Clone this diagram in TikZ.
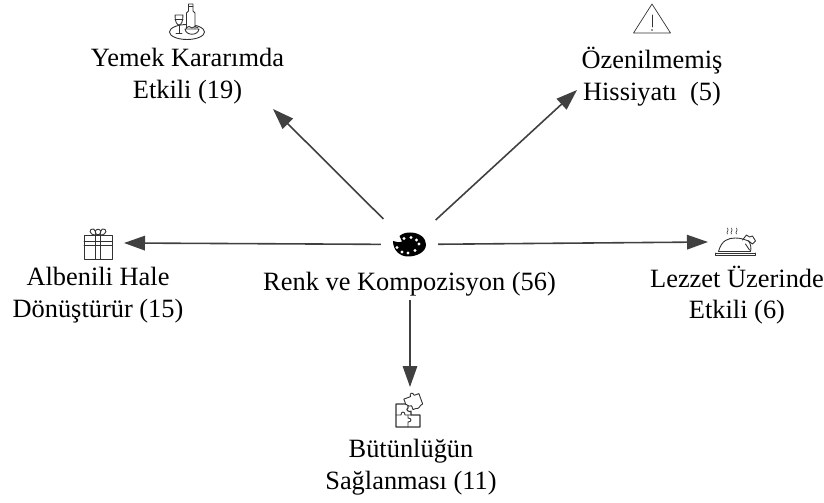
\documentclass[tikz,border=0pt]{standalone}
\usepackage{fontspec}
\setmainfont{Liberation Serif}
\usepackage{xcolor}
\usetikzlibrary{arrows.meta}
\definecolor{ArrowGray}{RGB}{64,64,64}
\definecolor{IconGray}{RGB}{50,50,50}
\tikzset{
    icon_line/.style={draw=IconGray, line width=0.9pt, line join=round, line cap=round},
    % --- ICONS (origin = centre of the icon) ---
    wine_icon/.pic={
        \draw[icon_line] (0,10) ellipse (17.5 and 7.5);
        \draw[icon_line, fill=white] (-0.5,8) -- (-0.5,-9) -- (1.5,-11) -- (1.5,-18) -- (6,-18) -- (6,-11) -- (8,-9) -- (8,8) -- cycle;
        \draw[icon_line] (1.5,-15.5) -- (6,-15.5);
        \draw[icon_line, fill=white] (-12,-7) -- (-4,-7) .. controls (-4,0) and (-6,3) .. (-8,3) .. controls (-10,3) and (-12,0) .. (-12,-7);
        \draw[icon_line] (-12,-3) -- (-4,-3) (-8,3) -- (-8,11) (-11,11.5) -- (-5,11.5);
        \draw[icon_line, fill=white] (-2,7) .. controls (-1,14) and (11,14) .. (12,7) -- cycle;
        \draw[icon_line] (-1,6) -- (2,4.5) -- (5,6) -- (8,4.5) -- (11,6);
    },
    warning_icon/.pic={
        \draw[icon_line, line width=0.7pt] (0,-15) -- (18.5,14) -- (-18.5,14) -- cycle;
        \draw[icon_line, line width=0.7pt] (0,-4) -- (0,8);
        \fill[IconGray] (0,11) circle (0.8);
    },
    gift_icon/.pic={
        \draw[icon_line] (-14,-8) rectangle (14,16);
        \draw[icon_line] (-14,-2) -- (14,-2) (-14,2) -- (14,2);
        \draw[icon_line] (-2.5,-8) -- (-2.5,16) (2.5,-8) -- (2.5,16);
        \draw[icon_line] (-2,-8) .. controls (-10,-8) and (-9,-15) .. (-4.5,-14) .. controls (-3,-13.5) and (-2,-11) .. (-2,-8);
        \draw[icon_line] (2,-8) .. controls (10,-8) and (9,-15) .. (4.5,-14) .. controls (3,-13.5) and (2,-11) .. (2,-8);
        \draw[icon_line] (0,-11) circle (2.8);
    },
    palette_icon/.pic={
        \fill[black] (-8.5,-8.5) .. controls (-5,-11.5) and (-1,-12) .. (2,-12)
            .. controls (12,-12) and (18,-6) .. (18,0)
            .. controls (18,8) and (8,12) .. (0,12)
            .. controls (-8,12) and (-15,6) .. (-15,-3.5)
            .. controls (-12,-2) and (-8,-2) .. (-6,-3) -- cycle;
        \foreach \dotx/\doty in {-4/-6, 3/-7, 8.5/-4.5, 11/-0.5, 7/6, 0/8.5, -6/7.5, -11/3}
            \fill[white] (\dotx,\doty) circle (1.7);
    },
    turkey_icon/.pic={
        \draw[icon_line] (-20,10) -- (20,10) (-20,10) -- (-20,12) -- (20,12) -- (20,10);
        \draw[icon_line] (-17,8.5) .. controls (-14,-3) and (-7,-5) .. (0,-5)
            .. controls (6,-5) and (10,-3) .. (13,-2);
        \draw[icon_line] (-17,8.5) -- (15,8.5) .. controls (16,5) and (15,0) .. (13,-2);
        \draw[icon_line] (7,-3) -- (11,-8) -- (14,-6) -- (17,-7) -- (20,-2) -- (17,1) -- (13,-2);
        \draw[icon_line] (10,1) -- (14,7);
        \foreach \stx in {-8,-4,1}
            \draw[icon_line, line width=0.6pt] (\stx,-9) .. controls (\stx-2,-11) and (\stx+2,-12) .. (\stx,-15);
    },
    puzzle_icon/.pic={
        \draw[icon_line, line width=1.1pt] (-14,-12) -- (-2,-12) -- (-2,-8) .. controls (-6,-6) and (1,-3) .. (1,-5) -- (1,-1) -- (10,-1) -- (10,11) -- (-14,11) -- cycle;
        \draw[icon_line] (-14,-1) -- (-9,-1) .. controls (-9,-5) and (-5,-5) .. (-5,-1) -- (1,-1);
        \draw[icon_line] (-2,11) -- (-2,6) .. controls (2,6) and (2,2) .. (-2,2) -- (-2,-1);
        \draw[icon_line, fill=white, rotate=20] (0,-18) -- (7,-18) .. controls (7,-22) and (11,-22) .. (11,-18) -- (16,-18) -- (16,-7)
            .. controls (12,-7) and (12,-3) .. (8,-5) -- (5,-5) -- (5,-9) .. controls (1,-9) and (1,-13) .. (0,-12) -- cycle;
    }
}

\begin{document}
\begin{tikzpicture}[
        x=1bp, y=-1bp,
        % Style nhãn
        label_node/.style={
            align=center,
            inner sep=0pt,
            font=\fontsize{26.4bp}{31.5bp}\selectfont,
            text=black
        },
        % Style nút biểu tượng
        icon_node/.style={
            circle,
            minimum size=36bp,
            inner sep=0pt
        },
        % Style mũi tên
        flow_arrow/.style={
            draw=ArrowGray,
            line width=1.6pt,
            -{Triangle[length=21bp, width=14.5bp]}
        }
    ]

        \useasboundingbox (0,0) rectangle (824,503);

        % --- BIỂU TƯỢNG ---
        \node[icon_node, minimum size=72bp] (palette) at (409,244.5) {};
        \pic at ([xshift=-1bp]palette.center) {palette_icon};
        \node[icon_node] (wine) at (187,22) {};
        \pic at (wine.center) {wine_icon};
        \node[icon_node] (warning) at (652,19) {};
        \pic at (warning.center) {warning_icon};
        \node[icon_node] (gift) at (98,243) {};
        \pic at (gift.center) {gift_icon};
        \node[icon_node] (turkey) at (735.5,243) {};
        \pic at (turkey.center) {turkey_icon};
        \node[icon_node] (puzzle) at (410,416) {};
        \pic at (puzzle.center) {puzzle_icon};

        % --- NHÃN ---
        \node[label_node] (center_label) at (409.5,284) {Renk ve Kompozisyon (56)};
        \node[label_node] (wine_label) at (187.5,76) {Yemek Kararımda\\Etkili (19)};
        \node[label_node] (warning_label) at (652,76.5) {Özenilmemiş\\Hissiyatı~ (5)};
        \node[label_node] (gift_label) at (98,295) {Albenili Hale\\Dönüştürür (15)};
        \node[label_node] (turkey_label) at (737,295) {Lezzet Üzerinde\\Etkili (6)};
        \node[label_node] (puzzle_label) at (411,467) {Bütünlüğün\\Sağlanması (11)};

        % --- MŨI TÊN ---
        \coordinate (wine_tip) at (273,109);
        \coordinate (warning_tip) at (577,90);
        \coordinate (gift_tip) at (124,243);
        \coordinate (turkey_tip) at (708,242);
        \coordinate (puzzle_tip) at (410,387);

        \draw[flow_arrow] (palette) -- (wine_tip);
        \draw[flow_arrow] (palette) -- (warning_tip);
        \draw[flow_arrow, shorten <=-8bp] (palette) -- (gift_tip);
        \draw[flow_arrow, shorten <=-7bp] (palette) -- (turkey_tip);
        \draw[flow_arrow, shorten <=4bp] (center_label.south -| puzzle_tip) -- (puzzle_tip);

    \end{tikzpicture}
\end{document}
